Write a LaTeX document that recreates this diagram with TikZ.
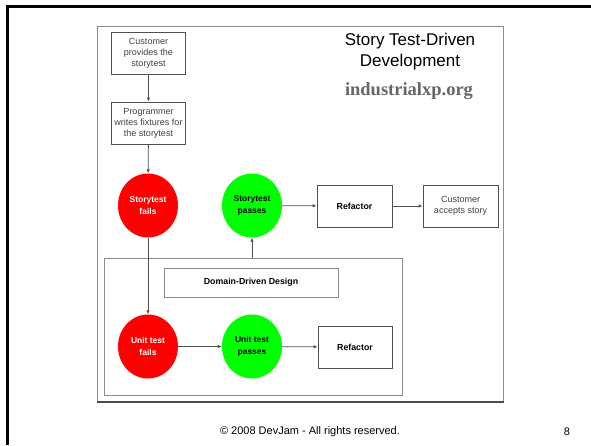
\documentclass[tikz,border=0pt]{standalone}
\usepackage{fontspec}
\setmainfont{Liberation Sans}
\newfontfamily\seriffont{Liberation Serif}
\usetikzlibrary{shapes.geometric,arrows.meta}
\definecolor{boxline}{HTML}{505050}
\definecolor{frameline}{HTML}{8C8C8C}
\definecolor{softtext}{HTML}{404040}
\tikzset{
  stepbox/.style={draw=boxline,line width=0.8pt,fill=white,inner sep=1pt,minimum width=74pt,minimum height=42pt,align=center},
  lighttext/.style={font=\fontsize{9}{11}\selectfont,text=softtext},
  boldtext/.style={font=\fontsize{8.8}{10.5}\selectfont\bfseries},
  redball/.style={ellipse,fill={rgb,255:red,255;green,0;blue,0},draw=none,minimum width=60pt,minimum height=64pt,inner sep=0pt,align=center,text=white,font=\fontsize{8.5}{11.5}\selectfont\bfseries},
  greenball/.style={ellipse,fill={rgb,255:red,0;green,255;blue,0},draw=none,minimum width=60pt,minimum height=64pt,inner sep=0pt,align=center,text=black,font=\fontsize{8.5}{11.5}\selectfont\bfseries},
  flow/.style={draw=boxline,line width=0.8pt,-{Latex[length=4pt,width=3.5pt]}}
}
\begin{document}
\begin{tikzpicture}[x=1pt,y=-1pt]
\useasboundingbox (0,0) rectangle (591,445);
\fill[white] (0,0) rectangle (591,445);
% slide border
\draw[black,line width=2.2pt] (7.5,445) -- (7.5,6.5) -- (591,6.5);
% diagram frame
\draw[frameline,line width=1pt] (97,26) rectangle (503,402);
\draw[black!70,line width=1.6pt] (96.5,402) -- (503.5,402);
% title
\node[font=\fontsize{17}{21}\selectfont,align=center] (title) at (410,52) {Story Test-Driven\\Development};
\node[font=\seriffont\bfseries\fontsize{18.5}{20}\selectfont,text=black!60] (site) at (409,91) {industrialxp.org};
% container
\node[draw=frameline,line width=1pt,minimum width=298pt,minimum height=137pt,inner sep=0pt] (container) at (253,326.5) {};
% boxes
\node[stepbox,lighttext] (cust) at (148.5,53) {Customer\\provides the\\storytest};
\node[stepbox,lighttext] (prog) at (148.5,123) {Programmer\\writes fixtures for\\the storytest};
\node[redball] (stfail) at (148,205.5) {Storytest\\fails};
\node[greenball] (stpass) at (252,205.5) {Storytest\\passes};
\node[stepbox,boldtext,minimum width=75pt] (ref1) at (354.5,206) {Refactor};
\node[stepbox,lighttext,minimum width=75pt] (accept) at (460.5,206) {Customer\\accepts story};
\node[stepbox,boldtext,minimum width=174pt,minimum height=29pt,draw=frameline] (ddd) at (251,282.5) {Domain-Driven Design};
\node[redball] (utfail) at (148,346.5) {Unit test\\fails};
\node[greenball] (utpass) at (252,346.5) {Unit test\\passes};
\node[stepbox,boldtext] (ref2) at (355,347) {Refactor};
% connectors
\draw[flow] (cust) -- (prog);
\draw[flow] (prog) -- (stfail);
\draw[flow] (stpass) -- (ref1);
\draw[flow] (ref1) -- (accept);
\draw[flow] (stpass |- container.north) -- (stpass);
\draw[flow] (stfail) -- (utfail);
\draw[flow] (utfail) -- (utpass);
\draw[flow] (utpass) -- (ref2);
% footer
\node[font=\fontsize{11}{13}\selectfont] (footer) at (310,432) {© 2008 DevJam - All rights reserved.};
\node[font=\fontsize{11}{13}\selectfont] (page) at (567,432) {8};
\end{tikzpicture}
\end{document}
